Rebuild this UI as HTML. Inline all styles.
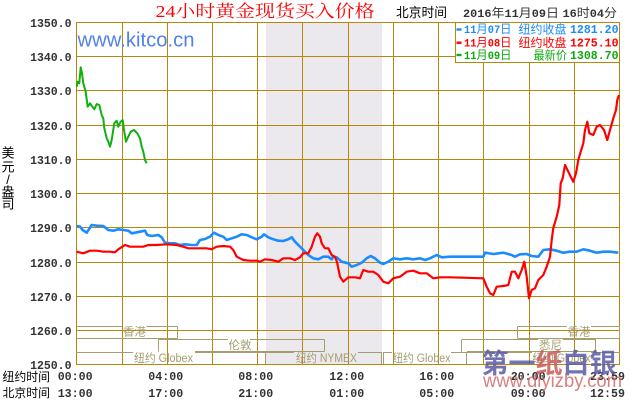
<!DOCTYPE html>
<html><head><meta charset="utf-8">
<style>
html,body{margin:0;padding:0;background:#fff;}
svg{display:block;}
.mono{font-family:"Liberation Mono",monospace;font-weight:bold;}
.cjk{font-family:"Liberation Sans","Noto Sans CJK SC",sans-serif;}
</style></head>
<body>
<svg width="630" height="400" viewBox="0 0 630 400" xmlns="http://www.w3.org/2000/svg">
<rect x="0" y="0" width="630" height="400" fill="#fff"/>
<!-- shaded session -->
<rect x="266" y="23" width="116" height="341" fill="#ebe8ee"/>

<!-- grid -->
<g stroke="#b8860b" stroke-width="1" fill="none">
<path d="M76.5,22.5V364.5 M122.5,22.5V364.5 M167.5,22.5V364.5 M212.5,22.5V364.5 M257.5,22.5V364.5 M302.5,22.5V364.5 M348.5,22.5V364.5 M393.5,22.5V364.5 M438.5,22.5V364.5 M483.5,22.5V364.5 M529.5,22.5V364.5 M574.5,22.5V364.5 M619.5,22.5V364.5"/>
<path d="M76,22.5H620 M76,56.5H620 M76,90.5H620 M76,125.5H620 M76,159.5H620 M76,193.5H620 M76,227.5H620 M76,262.5H620 M76,296.5H620 M76,330.5H620 M76,364.5H620"/>
</g>

<!-- session boxes -->
<g stroke="#a49e6c" stroke-width="1" fill="none">
<path d="M76.5,326.5H122 M146.5,326.5H177.5 M177.5,326.5V338.5 M76.5,338.5H177.5"/>
<path d="M158.5,339.5H228 M250,339.5H324.5 M158.5,339.5V351.5 M324.5,339.5V351.5 M195,351.5H324.5"/>
<path d="M76.5,352.5H133 M195,352.5H266 M265.5,352.5V364"/>
<path d="M266,352.5H294 M358,352.5H382 M381.5,352.5V364"/>
<path d="M383.5,352.5V364 M383,352.5H392 M451,352.5H467 M466.5,352.5V364"/>
<path d="M462,339.5H538 M563,339.5H596 M461.5,339.5V352 M595.5,339.5V352 M467,351.5H596"/>
<path d="M467,352.5H532 M591,352.5H620"/>
<path d="M518,326.5H567 M591,326.5H620 M517.5,326.5V338.5 M619.5,326.5V338.5 M518,338.5H620"/>
</g>
<g class="cjk" font-size="11.5" fill="#a49e6c">
<text x="123" y="335.5">香港</text>
<text x="228.5" y="349">伦敦</text>
<text x="134" y="362" textLength="59" lengthAdjust="spacingAndGlyphs">纽约 Globex</text>
<text x="296" y="362" textLength="61" lengthAdjust="spacingAndGlyphs">纽约 NYMEX</text>
<text x="392.5" y="362" textLength="58" lengthAdjust="spacingAndGlyphs">纽约 Globex</text>
<text x="532.5" y="362" textLength="58" lengthAdjust="spacingAndGlyphs">纽约 Globex</text>
<text x="539" y="349">悉尼</text>
<text x="567.5" y="335.5">香港</text>
</g>

<!-- series -->
<g fill="none" stroke-linejoin="round">
<polyline stroke="#1a8cff" stroke-width="2.6" points="76.7,226 80,226.7 82.7,230 86.7,232.7 91.7,225 96.7,225.7 103.3,226 108.3,230 113.3,230.7 118.3,229.3 123.3,230 128.3,230.7 131.7,233.3 135,232.7 140,231.7 145,230.7 147.3,235 151.7,236 158.3,235 161.7,237.3 165,242.7 170,243.3 175,243.3 180,245 185,244.3 191.7,245 196.7,245 200,240 205,239 210,236.7 214,232.7 218.3,235 223.3,236.7 226.7,240 231.7,238.3 236.7,236.7 241.7,234.3 246.7,235 251.7,237.3 256.7,239.3 261.7,236.7 264,234.3 268.3,237.3 273.3,239.3 278.3,240.7 283.3,241 288.3,239.3 291.7,237.3 295,241.7 298.3,245 303.3,250 308.3,255 313.3,258.3 318.3,259.3 323.3,256.7 328.3,256.7 331.7,259.3 333.3,256.7 336.7,257.3 341.7,261.7 348.3,263.3 351.7,266.7 356.7,265 361.7,262.7 366.7,258.3 370.7,256 375,258.3 380,262.7 383.3,264 388.3,261.7 393.3,258.3 400,259.3 406.7,258.3 413.3,259.3 420,258.3 425,260 430,258.3 436.7,255 441.7,257.3 450,256.7 463.3,256.7 483.3,256.7 485,252.7 493.3,254 503.3,252.7 511.7,255 515,256.7 520,254.3 526.7,254 531.7,256 538.3,256.7 543.3,250 550,249.3 556.7,250.7 563.3,252.7 570,251.7 576.7,251.7 583.3,249.3 590,250.7 596.7,252.7 603.3,251.7 610,251.7 618.3,252.7"/>
<polyline stroke="#ff0000" stroke-width="2.2" points="76.7,251.7 83.3,253.3 90,250.7 96.7,250.7 103.3,251.7 110,251.7 115,252.3 118.3,249.3 125,245 130,246.7 136.7,246.7 143.3,246.7 148.3,245 156.7,245 166.7,244.3 176.7,245 183.3,246.7 188.3,248.3 193.3,248.3 200,248.3 206.7,248.3 211.7,249.3 216.7,246.7 223.3,246 230,246.7 233.3,250 236.7,256.7 243.3,260 250,260.7 256.7,260.7 260,261.7 265,259.3 271.7,260 278.3,261.7 283.3,258.3 290,258.3 295,260 300,257.3 303.3,253.3 308.3,253.3 311.7,246.7 315,236.7 317.3,233.3 320,236.7 321.7,243.3 325,248.3 328.3,248.3 331.7,255 335,257 337,262 340,276.7 343.3,281.7 348.3,277.3 355,277.3 360,278.3 363.3,270 368.3,271.7 373.3,271.7 378.3,275 383.3,281.7 388.3,283.3 393.3,278.3 400,276.7 406.7,271.7 413.3,270.7 420,273.3 426.7,273.3 433.3,278.3 440,277.3 450,277.3 463.3,277.7 483.3,278.3 486.7,286.7 490,293.3 493.3,295 496.7,286.7 503.3,286 508.3,285 511.7,271.7 515,271.7 518.3,278.3 521.7,270 524.3,261.7 526.7,276.7 529,298.3 531.7,290 535,288.3 538.3,280 543.3,275 546.7,266.7 550,256.7 551.7,240 553.3,228 556.7,216.7 559.3,205 560.7,183.3 562.7,178.3 565,165 568.3,171.7 570.7,176.7 573.3,181.7 576,173.3 578.3,160 580.7,151.7 583.3,143.3 585,130 587.3,121.7 589.3,133.3 593.3,135 596.7,126.7 600,125 604,130 607.3,140 610,130 613.3,118.3 616,110 617.3,100 619,95"/>
<polyline stroke="#10b010" stroke-width="2" points="76.7,86.7 77.7,81.7 79.3,83.3 80.7,67.3 82,73.3 83.3,83.3 85.7,91.7 87.7,106.7 90,103.3 92.3,106.7 94.3,109.3 96.7,104 99.3,105 101.7,115 103.3,118.3 104.3,128.3 106.7,138.3 108.3,141.7 110,146.7 111.7,140 114.3,123.3 116.7,120.7 118.3,126.7 120.7,121.7 122.7,120 124,130 126,141.7 128.3,136.7 130.7,131.7 134,130 137.3,133.3 140,138.3 141.7,146.7 143.3,151.7 145,160 146.7,163.3"/>
</g>

<!-- kitco -->
<text x="77.5" y="46.3" font-family="Liberation Sans, sans-serif" font-size="20" fill="#4f82e8" textLength="117" lengthAdjust="spacingAndGlyphs">www.kitco.cn</text>

<!-- title -->
<text x="155.5" y="17" font-family="Liberation Serif, Noto Serif CJK SC, serif" font-size="17" fill="#ff0000" textLength="219" lengthAdjust="spacingAndGlyphs">24小时黄金现货买入价格</text>
<text x="396" y="17" class="cjk" font-size="13" fill="#000" textLength="51" lengthAdjust="spacingAndGlyphs">北京时间</text>
<text x="463" y="17" font-size="12" fill="#333" textLength="154" lengthAdjust="spacingAndGlyphs"><tspan class="mono" font-size="11">2016</tspan><tspan class="cjk">年</tspan><tspan class="mono" font-size="11">11</tspan><tspan class="cjk">月</tspan><tspan class="mono" font-size="11">09</tspan><tspan class="cjk">日 </tspan><tspan class="mono" font-size="11">16</tspan><tspan class="cjk">时</tspan><tspan class="mono" font-size="11">04</tspan><tspan class="cjk">分</tspan></text>

<!-- legend -->
<rect x="455.5" y="22.5" width="164" height="40" fill="#fff" stroke="#b8860b" stroke-width="1"/>
<g font-size="12">
<rect x="456.5" y="28.3" width="5" height="2.4" fill="#1a8cff"/>
<text x="464" y="33" fill="#1a8cff" textLength="47.5" lengthAdjust="spacingAndGlyphs"><tspan class="mono" font-size="11">11</tspan><tspan class="cjk">月</tspan><tspan class="mono" font-size="11">07</tspan><tspan class="cjk">日</tspan></text>
<text x="518.5" y="33.5" class="cjk" fill="#1a8cff" textLength="48" lengthAdjust="spacingAndGlyphs">纽约收盘</text>
<text x="570" y="33" class="mono" font-size="11.5" fill="#1a8cff" textLength="48.5" lengthAdjust="spacingAndGlyphs">1281.20</text>

<rect x="456.5" y="41.5" width="5" height="2.4" fill="#ff0000"/>
<text x="464" y="46.5" fill="#ff0000" textLength="47.5" lengthAdjust="spacingAndGlyphs"><tspan class="mono" font-size="11">11</tspan><tspan class="cjk">月</tspan><tspan class="mono" font-size="11">08</tspan><tspan class="cjk">日</tspan></text>
<text x="518.5" y="47" class="cjk" fill="#ff0000" textLength="48" lengthAdjust="spacingAndGlyphs">纽约收盘</text>
<text x="570" y="46.5" class="mono" font-size="11.5" fill="#ff0000" textLength="48.5" lengthAdjust="spacingAndGlyphs">1275.10</text>

<rect x="456.5" y="53.8" width="5" height="2.4" fill="#10a810"/>
<text x="464" y="59" fill="#10a810" textLength="47.5" lengthAdjust="spacingAndGlyphs"><tspan class="mono" font-size="11">11</tspan><tspan class="cjk">月</tspan><tspan class="mono" font-size="11">09</tspan><tspan class="cjk">日</tspan></text>
<text x="533.5" y="59.5" class="cjk" fill="#10a810" textLength="33.5" lengthAdjust="spacingAndGlyphs">最新价</text>
<text x="570" y="59" class="mono" font-size="11.5" fill="#10a810" textLength="48.5" lengthAdjust="spacingAndGlyphs">1308.70</text>
</g>

<!-- y axis labels -->
<g class="mono" font-size="11.5" fill="#333" text-anchor="end">
<text x="71.5" y="26.8">1350.0</text>
<text x="71.5" y="60.8">1340.0</text>
<text x="71.5" y="94.8">1330.0</text>
<text x="71.5" y="129.8">1320.0</text>
<text x="71.5" y="163.8">1310.0</text>
<text x="71.5" y="197.8">1300.0</text>
<text x="71.5" y="231.8">1290.0</text>
<text x="71.5" y="266.8">1280.0</text>
<text x="71.5" y="300.8">1270.0</text>
<text x="71.5" y="334.8">1260.0</text>
<text x="71.5" y="368.8">1250.0</text>
</g>
<g class="cjk" font-size="13" fill="#000" text-anchor="middle">
<text x="8" y="157.5">美</text>
<text x="8" y="171.5">元</text>
<text x="8" y="184">/</text>
<text x="8" y="196.5">盎</text>
<text x="8" y="208.5">司</text>
</g>

<!-- x axis labels -->
<g class="cjk" font-size="12" fill="#000">
<text x="2.5" y="381" textLength="47.5" lengthAdjust="spacingAndGlyphs">纽约时间</text>
<text x="2.5" y="397" textLength="47.5" lengthAdjust="spacingAndGlyphs">北京时间</text>
</g>
<g class="mono" font-size="11.7" fill="#333">
<text x="57.7" y="380" textLength="35" lengthAdjust="spacingAndGlyphs">00:00</text>
<text x="148.3" y="380" textLength="35" lengthAdjust="spacingAndGlyphs">04:00</text>
<text x="238.3" y="380" textLength="35" lengthAdjust="spacingAndGlyphs">08:00</text>
<text x="329.3" y="380" textLength="35" lengthAdjust="spacingAndGlyphs">12:00</text>
<text x="419.3" y="380" textLength="35" lengthAdjust="spacingAndGlyphs">16:00</text>
<text x="510.7" y="380" textLength="35" lengthAdjust="spacingAndGlyphs">20:00</text>
<text x="590" y="380" textLength="35" lengthAdjust="spacingAndGlyphs">23:59</text>
<text x="57.7" y="397" textLength="35" lengthAdjust="spacingAndGlyphs">13:00</text>
<text x="148.3" y="397" textLength="35" lengthAdjust="spacingAndGlyphs">17:00</text>
<text x="238.3" y="397" textLength="35" lengthAdjust="spacingAndGlyphs">21:00</text>
<text x="329.3" y="397" textLength="35" lengthAdjust="spacingAndGlyphs">01:00</text>
<text x="419.3" y="397" textLength="35" lengthAdjust="spacingAndGlyphs">05:00</text>
<text x="510.7" y="397" textLength="35" lengthAdjust="spacingAndGlyphs">09:00</text>
<text x="590" y="397" textLength="35" lengthAdjust="spacingAndGlyphs">12:59</text>
</g>

<!-- watermark -->
<text x="481.5" y="373" font-family="Liberation Sans, Noto Sans CJK SC, sans-serif" font-weight="bold" font-size="27" fill-opacity="0.85" textLength="135" lengthAdjust="spacingAndGlyphs"><tspan fill="#5b5ba6">第一</tspan><tspan fill="#c85a5a">纸</tspan><tspan fill="#5b5ba6">白银</tspan></text>
<text x="483" y="387" font-family="Liberation Sans, sans-serif" font-size="19" fill="#d06a6a" fill-opacity="0.85" textLength="139" lengthAdjust="spacingAndGlyphs">www.diyizby.com</text>
</svg>
</body></html>
